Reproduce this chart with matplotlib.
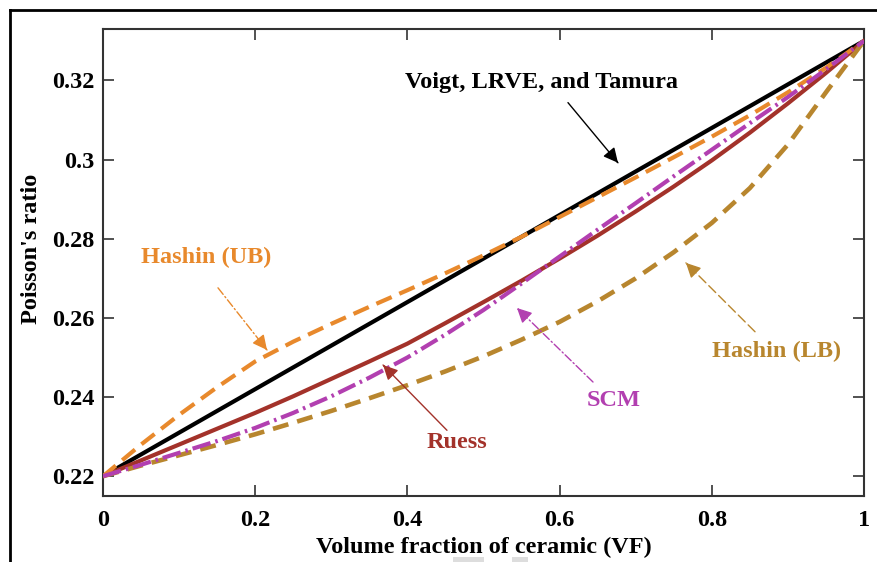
import matplotlib
matplotlib.use("Agg")
import matplotlib.pyplot as plt
from matplotlib.lines import Line2D
from matplotlib.patches import Rectangle

# ---- data ----
vf = [0.00, 0.05, 0.10, 0.15, 0.20, 0.25, 0.30, 0.35, 0.40, 0.45, 0.50,
      0.55, 0.60, 0.65, 0.70, 0.75, 0.80, 0.85, 0.90, 0.95, 1.00]
voigt = [0.2200, 0.2255, 0.2310, 0.2365, 0.2420, 0.2475, 0.2530, 0.2585, 0.2640, 0.2695, 0.2750,
         0.2805, 0.2860, 0.2915, 0.2970, 0.3025, 0.3080, 0.3135, 0.3190, 0.3245, 0.3300]
hashin_ub = [0.2200, 0.2280, 0.2355, 0.2425, 0.2490, 0.2540, 0.2585, 0.2628, 0.2670, 0.2713, 0.2758,
             0.2805, 0.2855, 0.2905, 0.2955, 0.3006, 0.3058, 0.3112, 0.3170, 0.3232, 0.3300]
ruess = [0.2200, 0.2240, 0.2280, 0.2320, 0.2360, 0.2402, 0.2446, 0.2490, 0.2535, 0.2587, 0.2640,
         0.2694, 0.2750, 0.2808, 0.2869, 0.2932, 0.2998, 0.3068, 0.3142, 0.3219, 0.3300]
scm = [0.2200, 0.2229, 0.2259, 0.2289, 0.2322, 0.2360, 0.2402, 0.2449, 0.2500, 0.2558, 0.2620,
       0.2687, 0.2755, 0.2823, 0.2890, 0.2958, 0.3025, 0.3092, 0.3158, 0.3228, 0.3300]
hashin_lb = [0.2200, 0.2227, 0.2253, 0.2279, 0.2306, 0.2335, 0.2365, 0.2397, 0.2430, 0.2465, 0.2503,
             0.2545, 0.2590, 0.2642, 0.2700, 0.2766, 0.2840, 0.2928, 0.3038, 0.3170, 0.3300]

xticks = [0, 0.2, 0.4, 0.6, 0.8, 1.0]
xticklabels = ["0", "0.2", "0.4", "0.6", "0.8", "1"]
yticks = [0.22, 0.24, 0.26, 0.28, 0.30, 0.32]
yticklabels = ["0.22", "0.24", "0.26", "0.28", "0.3", "0.32"]

C_BLACK = "#000000"
C_UB = "#E8892C"
C_RUESS = "#A3322A"
C_SCM = "#B23FB0"
C_LB = "#B8862E"

plt.rcParams['font.family'] = ['Liberation Serif', 'DejaVu Serif']
plt.rcParams['font.weight'] = 'bold'
FS = 17.5

fig = plt.figure(figsize=(8.77, 5.62), dpi=100)
ax = fig.add_axes([103/877, 1-496/562, (864-103)/877, (496-29)/562])

lw = 3.0
ax.plot(vf, voigt, color=C_BLACK, lw=lw, solid_capstyle='butt', zorder=3)
ax.plot(vf, hashin_ub, color=C_UB, lw=lw, dashes=(4, 2), zorder=4)
ax.plot(vf, ruess, color=C_RUESS, lw=lw, zorder=3)
ax.plot(vf, scm, color=C_SCM, lw=lw, dashes=(4.5, 1.2, 0.6, 1.2), zorder=4)
ax.plot(vf, hashin_lb, color=C_LB, lw=3.3, dashes=(3.5, 2), zorder=3)

ax.set_xlim(0, 1)
ax.set_ylim(0.215, 0.333)
ax.set_xticks(xticks)
ax.set_xticklabels(xticklabels)
ax.set_yticks(yticks)
ax.set_yticklabels(yticklabels)
ax.tick_params(direction='in', length=8, width=1.2, top=True, right=True,
               labelsize=FS, colors='#333333', labelcolor='black')
ax.tick_params(axis='x', pad=10)
ax.tick_params(axis='y', pad=6)
for s in ax.spines.values():
    s.set_linewidth(1.5)
    s.set_color('#333333')

ax.set_xlabel("Volume fraction of ceramic (VF)", fontsize=FS, fontweight='bold', labelpad=4)
ax.set_ylabel("Poisson's ratio", fontsize=FS, fontweight='bold')
ax.yaxis.set_label_coords(-0.080, 0.53)


def arrow(text, txy, start, tip, color, ls):
    ax.text(txy[0], txy[1], text, color=color, fontsize=FS, fontweight='bold',
            ha='center', va='center', zorder=6)
    ax.annotate("", xy=tip, xytext=start,
                arrowprops=dict(arrowstyle='-', color=color, lw=1.0, linestyle=ls,
                                shrinkA=0, shrinkB=0), zorder=6)
    hx = tip[0] - (tip[0] - start[0]) * 0.02
    hy = tip[1] - (tip[1] - start[1]) * 0.02
    ax.annotate("", xy=tip, xytext=(hx, hy),
                arrowprops=dict(arrowstyle='-|>', color=color, lw=1.0,
                                mutation_scale=22, shrinkA=0, shrinkB=0), zorder=6)


arrow("Voigt, LRVE, and Tamura", (0.5756, 0.3195), (0.611, 0.3144), (0.6767, 0.2992), C_BLACK, '-')
arrow("Hashin (UB)", (0.1353, 0.2752), (0.1511, 0.2676), (0.2155, 0.2519), C_UB, (0, (6, 2, 1, 2)))
arrow("Ruess", (0.4652, 0.2284), (0.452, 0.2316), (0.368, 0.2481), C_RUESS, '-')
arrow("SCM", (0.6715, 0.2392), (0.6439, 0.2438), (0.544, 0.2625), C_SCM, (0, (6, 2, 1, 2)))
arrow("Hashin (LB)", (0.8857, 0.2514), (0.8568, 0.2565), (0.766, 0.2739), C_LB, (0, (7, 3)))

# outer frame (cropped on right and bottom)
fig.add_artist(Line2D([10/877, 1.0], [1-10/562, 1-10/562], color='black', lw=2.0))
fig.add_artist(Line2D([10/877, 10/877], [1-10/562, 0.0], color='black', lw=2.0))
fig.add_artist(Rectangle((453/877, 0), 31/877, 5/562, color='#dddddd', lw=0))
fig.add_artist(Rectangle((512/877, 0), 16/877, 5/562, color='#dddddd', lw=0))

fig.savefig("out.png", dpi=100)
